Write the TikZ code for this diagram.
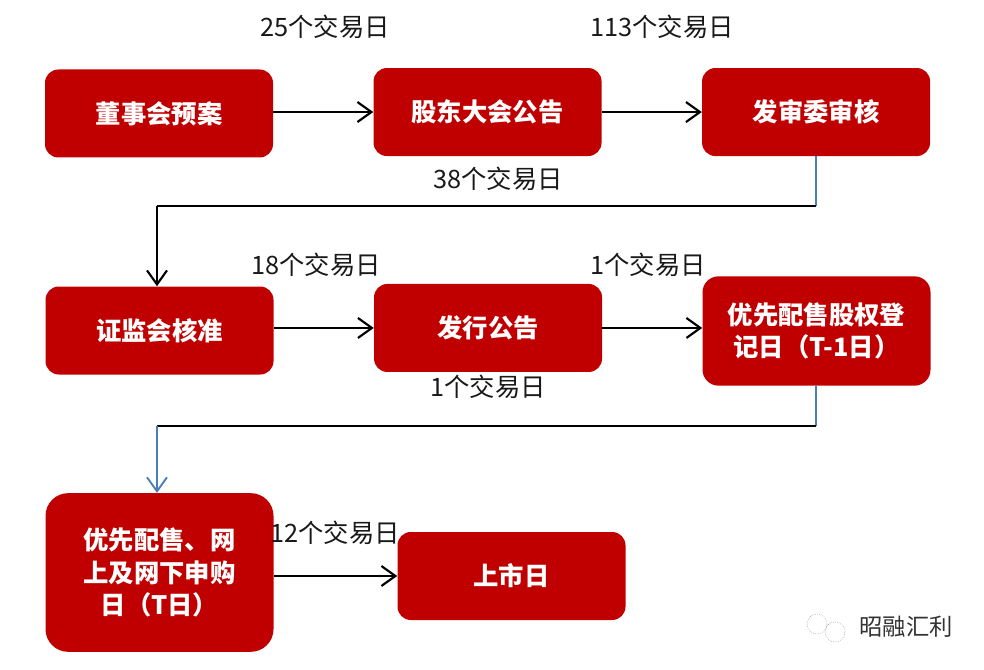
\documentclass[tikz,border=0pt]{standalone}
\usepackage{fontspec}
\setmainfont{Noto Sans CJK SC}
\usepackage{xcolor}
\usetikzlibrary{positioning, arrows.meta}
\definecolor{boxred}{HTML}{C00000}
\definecolor{linkblue}{HTML}{4A7EBB}
\begin{document}
\begin{tikzpicture}[
        x=0.75pt, y=-0.75pt,
        stage/.style={
            rectangle, fill=boxred, rounded corners=10pt,
            minimum width=171pt, minimum height=66pt, inner sep=0pt,
            text=white, align=center, font=\fontsize{19pt}{24.5pt}\selectfont\bfseries
        },
        days/.style={inner sep=0pt, text=black!90, font=\fontsize{19pt}{22pt}\selectfont},
        arrow/.style={-{Straight Barb[length=10.5pt, width=15pt]}, line width=1.6pt, black},
        elbow/.style={line width=1.6pt, black},
        bluelink/.style={line width=1.4pt, linkblue}
    ]
        \path[use as bounding box, fill=white] (0,0) rectangle (984,670);

        \node[stage] (board) at (159,113.5) {董事会预案};
        \node[stage, right=75pt of board, yshift=1.1pt] (meeting) {股东大会公告};
        \node[stage, right=75pt of meeting] (review) {发审委审核};
        \draw[arrow] (board.east |- meeting.west) -- (meeting.west);
        \draw[arrow] (meeting) -- (review);

        \node[stage] (csrc) at (159.5,330.5) {证监会核准};
        \node[stage, right=75pt of csrc, yshift=1.9pt] (notice) {发行公告};
        \node[stage, minimum height=82pt, rounded corners=12pt] (record) at (816.5,331) {优先配售股权登\\记日（T-1日）};
        \draw[arrow] (csrc.east |- notice.west) -- (notice.west);
        \draw[arrow] (notice.east) -- (record.west |- notice.east);

        \node[stage, minimum height=119pt, rounded corners=17pt] (subscribe) at (159.5,572.5) {优先配售、网\\上及网下申购\\日（T日）};
        \node[stage] (listing) at (511.5,576) {上市日};
        \draw[arrow] (subscribe.east |- listing.west) -- (listing.west);

        % long returns between rows
        \coordinate (turna) at (816,206);
        \coordinate (turnb) at (157,206);
        \draw[bluelink] (turna |- review.south) -- (turna);
        \draw[elbow] (turna) -- (turnb);
        \draw[arrow] (turnb) -- (turnb |- csrc.north);

        \coordinate (turnc) at (816,426);
        \coordinate (turnd) at (157,426);
        \draw[bluelink] (turnc |- record.south) -- (turnc);
        \draw[elbow] (turnc) -- (turnd);
        \draw[arrow, bluelink] (turnd) -- (turnd |- subscribe.north);

        \node[days] (daysa) at (325,27) {25个交易日};
        \node[days] (daysb) at (662,27) {113个交易日};
        \node[days] (daysc) at (498,179) {38个交易日};
        \node[days] (daysd) at (316,265) {18个交易日};
        \node[days] (dayse) at (648,265) {1个交易日};
        \node[days] (daysf) at (488,387) {1个交易日};
        \node[days] (daysg) at (335,533) {12个交易日};

        % watermark
        \node[inner sep=0pt, text=black!80, font=\fontsize{17.5pt}{20pt}\selectfont] (mark) at (906,627) {昭融汇利};
        \node[circle, draw=black!45, densely dotted, inner sep=0pt, minimum size=15pt] (iconb) at (835,632) {};
        \node[circle, draw=black!45, densely dotted, inner sep=0pt, minimum size=15pt] (icona) at (817,624) {};
\end{tikzpicture}
\end{document}
